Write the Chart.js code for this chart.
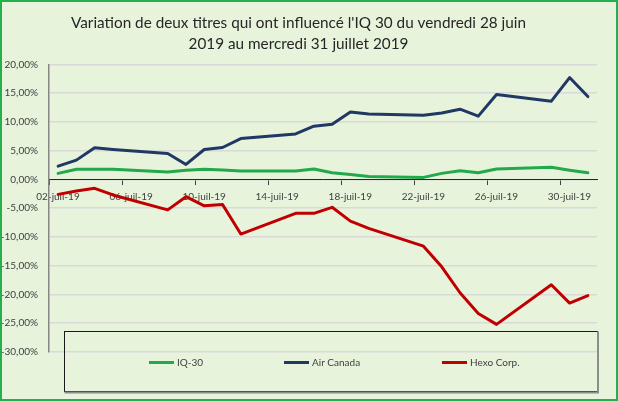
<!DOCTYPE html>
<html lang="fr">
<head>
<meta charset="utf-8">
<title>Variation IQ 30 - juillet 2019</title>
<script src="https://cdn.jsdelivr.net/npm/chart.js@4.4.1/dist/chart.umd.min.js"></script>
<style>
  html, body { margin: 0; padding: 0; background: #e8f3dc; }
  #wrap { width: 618px; height: 401px; }
</style>
</head>
<body>
<div id="wrap"><canvas id="chart" width="618" height="401"></canvas></div>
<script>
// trading days of July 2019 (July 1 is a holiday)
const tradingDays = [2, 3, 4, 5, 8, 9, 10, 11, 12, 15, 16, 17, 18, 19, 22, 23, 24, 25, 26, 29, 30, 31];

// cumulative change in % since Friday June 28, 2019
const iq30 = [1.05, 1.75, 1.75, 1.75, 1.3, 1.6, 1.75, 1.65, 1.45, 1.45, 1.8, 1.15, 0.85, 0.5, 0.35, 1.05, 1.5, 1.15, 1.8, 2.1, 1.6, 1.15];
const airCanada = [2.3, 3.35, 5.5, 5.2, 4.5, 2.6, 5.2, 5.55, 7.1, 7.9, 9.25, 9.6, 11.7, 11.35, 11.15, 11.55, 12.2, 11.0, 14.75, 13.6, 17.7, 14.4];
const hexo = [-2.6, -2.0, -1.55, -2.7, -5.3, -3.0, -4.6, -4.35, -9.5, -5.9, -5.9, -4.85, -7.25, -8.5, -11.6, -15.2, -19.7, -23.3, -25.2, -18.3, -21.5, -20.2];

const seriesNames = ["IQ-30", "Air Canada", "Hexo Corp."];
const seriesColors = ["#22a94b", "#1f3864", "#c00000"];
const tickDays = [2, 6, 10, 14, 18, 22, 26, 30];
const titleLines = [
  "Variation de deux titres qui ont influencé l'IQ 30 du vendredi 28 juin",
  "2019 au mercredi 31 juillet 2019",
];

const FONT = "Lato";
const TEXT = "#404040";

function toPoints(values) {
  return tradingDays.map((d, i) => ({ x: d, y: values[i] }));
}

// background + green frame
const frame = {
  id: "frame",
  beforeDraw(chart) {
    const { ctx, width, height } = chart;
    ctx.save();
    ctx.fillStyle = "#e8f3dc";
    ctx.fillRect(0, 0, width, height);
    ctx.restore();
  },
  afterDraw(chart) {
    const { ctx, width, height } = chart;
    ctx.save();
    ctx.strokeStyle = "#22b14c";
    ctx.lineWidth = 2;
    ctx.strokeRect(1, 1, width - 2, height - 2);
    ctx.restore();
  },
};

// Excel-like legend box, sitting over the bottom of the plot area
const legendBox = {
  id: "legendBox",
  afterDatasetsDraw(chart) {
    const { ctx } = chart;
    const box = { left: 64.5, top: 331.5, right: 597.5, bottom: 391.5 };
    const startX = [149, 284, 442];
    const y = 362.5;
    ctx.save();
    ctx.strokeStyle = "#1a1a1a";
    ctx.lineWidth = 1;
    ctx.strokeRect(box.left, box.top, box.right - box.left, box.bottom - box.top);
    ctx.strokeStyle = "#8c8c8c";
    ctx.lineWidth = 2;
    ctx.beginPath();
    ctx.moveTo(box.right + 0.5, box.top);
    ctx.lineTo(box.right + 0.5, box.bottom + 1);
    ctx.lineTo(box.left, box.bottom + 1);
    ctx.stroke();

    ctx.font = `10px ${FONT}`;
    ctx.textBaseline = "middle";
    ctx.fillStyle = TEXT;
    chart.data.datasets.forEach((ds, i) => {
      ctx.strokeStyle = ds.borderColor;
      ctx.lineWidth = 3;
      ctx.beginPath();
      ctx.moveTo(startX[i], y);
      ctx.lineTo(startX[i] + 25, y);
      ctx.stroke();
      ctx.fillText(ds.label, startX[i] + 28, y + 0.5);
    });
    ctx.restore();
  },
};

const datasets = [iq30, airCanada, hexo].map((values, i) => ({
  label: seriesNames[i],
  data: toPoints(values),
  borderColor: seriesColors[i],
  backgroundColor: seriesColors[i],
  borderWidth: 3,
  pointRadius: 0,
  tension: 0,
  borderJoinStyle: "round",
  borderCapStyle: "round",
}));

new Chart(document.getElementById("chart"), {
  type: "line",
  data: { datasets },
  options: {
    responsive: false,
    animation: false,
    devicePixelRatio: 1,
    layout: { padding: { left: 0, right: 21, top: 0, bottom: 49 } },
    plugins: {
      legend: { display: false },
      tooltip: { enabled: false },
      title: {
        display: true,
        text: titleLines,
        color: "#262626",
        font: { family: FONT, size: 15.3, weight: "normal", lineHeight: 1.4 },
        padding: { top: 12, bottom: 9.5 },
      },
    },
    scales: {
      x: {
        type: "linear",
        position: { y: 0 },
        min: 1.5,
        max: 31.5,
        afterBuildTicks: (scale) => {
          scale.ticks = tickDays.map((d) => ({ value: d - 0.5 }));
        },
        ticks: {
          autoSkip: false,
          maxRotation: 0,
          labelOffset: 9,
          padding: 6,
          color: TEXT,
          font: { family: FONT, size: 10 },
          callback: (value) => String(value + 0.5).padStart(2, "0") + "-juil-19",
        },
        grid: { drawOnChartArea: false, drawTicks: true, tickLength: 5, color: "#404040" },
        border: { color: "#262626", width: 1 },
      },
      y: {
        min: -30,
        max: 20,
        afterFit: (scale) => { scale.width = 49; },
        ticks: {
          stepSize: 5,
          padding: 11,
          color: TEXT,
          font: { family: FONT, size: 10 },
          callback: (value) => value.toFixed(2).replace(".", ",") + "%",
        },
        grid: { color: "#d9d9d9", lineWidth: 1.5, drawTicks: false },
        border: { color: "#868686", width: 1.5 },
      },
    },
  },
  plugins: [frame, legendBox],
});
</script>
</body>
</html>
